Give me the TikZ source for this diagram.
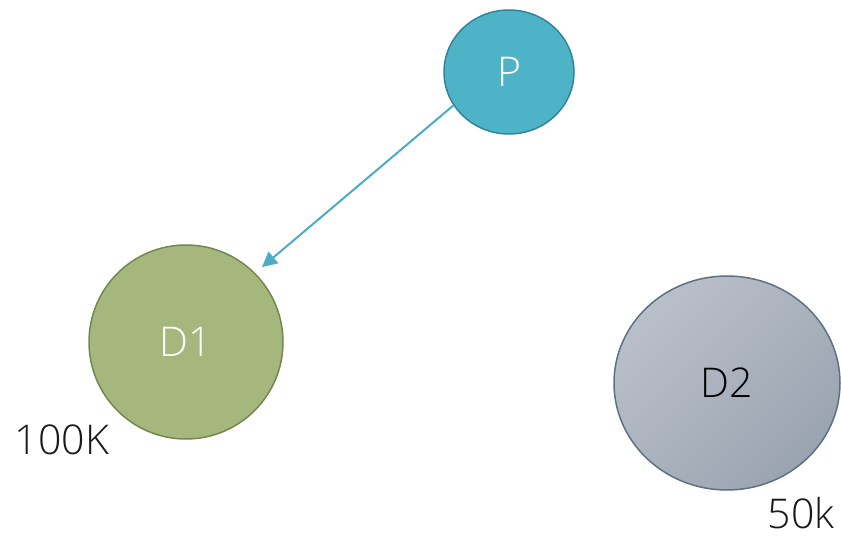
\documentclass[tikz,border=0pt]{standalone}
\usepackage{fontspec}
\setmainfont{Open Sans Light}
\usetikzlibrary{shapes.geometric,arrows.meta}
\definecolor{pfill}{HTML}{4FB3C8}
\definecolor{pline}{HTML}{31849B}
\definecolor{dgreen}{HTML}{A6B77E}
\definecolor{dgreenline}{HTML}{76864F}
\definecolor{grayhi}{HTML}{BAC0CA}
\definecolor{graylo}{HTML}{9AA4B0}
\definecolor{grayline}{HTML}{5F7085}
\definecolor{link}{HTML}{4BACC6}
\tikzset{
  x=1pt, y=-1pt,
  blob/.style={ellipse, line width=1.5pt, inner sep=0pt, font=\fontsize{41}{41}\selectfont},
  tag/.style={font=\fontsize{41}{41}\selectfont, text=black!90, inner sep=0pt},
}
\begin{document}
\begin{tikzpicture}
\useasboundingbox (0,0) rectangle (841,537);
\node[blob, draw=pline, fill=pfill, text=white, minimum width=130pt, minimum height=124pt] (P) at (509,72) {P};
\node[blob, draw=dgreenline, fill=dgreen, text=white, minimum width=194pt, minimum height=194pt] (D1) at (186,342) {D1};
\node[blob, draw=grayline, top color=grayhi, bottom color=graylo, shading angle=45, text=black, minimum width=226pt, minimum height=214pt] (D2) at (727,383) {D2};
\node[tag] (L1) at (62,440) {100K};
\node[tag] (L2) at (801,513) {50k};
% link leaves P on its lower left and stops just short of D1
\draw[link, line width=2pt, -{Triangle[length=15pt,width=15pt]}, shorten >=9pt] (P.211) -- (D1.45);
\end{tikzpicture}
\end{document}
